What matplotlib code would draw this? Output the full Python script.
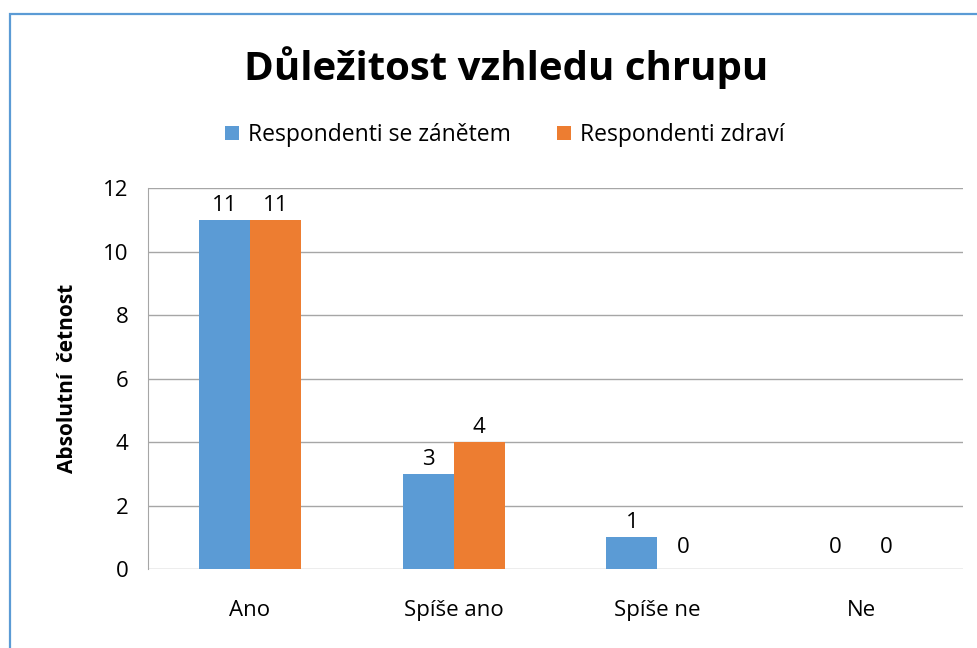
import matplotlib.pyplot as plt
import matplotlib.patches as patches
import numpy as np

categories = ["Ano", "Spíše ano", "Spíše ne", "Ne"]
s_zanetem = [11, 3, 1, 0]
s_zdravi = [11, 4, 0, 0]
series_names = ["Respondenti se zánětem", "Respondenti zdraví"]
colors = ["#5b9bd5", "#ed7d31"]

plt.rcParams["font.family"] = ["Open Sans", "DejaVu Sans"]

fig = plt.figure(figsize=(9.78, 6.48), dpi=100)
ax = fig.add_axes([148 / 978, 1 - 569 / 648, 815 / 978, 381 / 648])

x = np.arange(len(categories))
w = 0.25
b1 = ax.bar(x - w / 2, s_zanetem, w, color=colors[0], label=series_names[0], zorder=2)
b2 = ax.bar(x + w / 2, s_zdravi, w, color=colors[1], label=series_names[1], zorder=2)

for bars in (b1, b2):
    for r in bars:
        h = r.get_height()
        # Excel lifts the labels of empty bars a bit more
        off = 8 if h == 0 else 3
        ax.annotate(f"{int(h)}", (r.get_x() + r.get_width() / 2, h),
                    xytext=(0, off), textcoords="offset points",
                    ha="center", va="bottom", fontsize=16)

ax.set_xlim(-0.5, len(categories) - 0.5)
ax.set_ylim(0, 12)
ax.set_yticks(range(0, 13, 2))
ax.set_xticks(x)
ax.set_xticklabels(categories)
ax.tick_params(axis="both", length=0, labelsize=16)
ax.tick_params(axis="x", pad=22)
ax.tick_params(axis="y", pad=14)
ax.grid(axis="y", color="#a6a6a6", linewidth=1, zorder=0)
for s in ["top", "right", "bottom"]:
    ax.spines[s].set_visible(False)
ax.spines["left"].set_color("#a6a6a6")
ax.set_ylabel("Absolutní  četnost", fontsize=15, fontweight="bold", labelpad=18)

fig.text(506 / 978, 1 - 68 / 648, "Důležitost vzhledu chrupu", ha="center", va="center",
         fontsize=29, fontweight="bold")

fig.legend(handles=[b1, b2], loc="center", bbox_to_anchor=(505 / 978, 1 - 135 / 648),
           ncol=2, frameon=False, fontsize=16.5, handlelength=0.6, handleheight=0.6,
           handletextpad=0.4, columnspacing=2.0)

border = patches.Rectangle((10 / 978, -0.05), 1.1, 1 - 14 / 648 + 0.05, transform=fig.transFigure,
                           fill=False, edgecolor="#5b9bd5", linewidth=1.6)
fig.patches.append(border)

fig.savefig("out.png", dpi=100)
